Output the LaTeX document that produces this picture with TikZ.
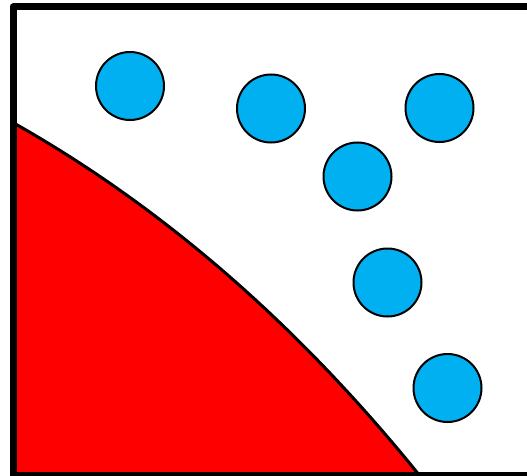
\documentclass[tikz,border=0pt]{standalone}
\usepackage{tikz}

\definecolor{dropblue}{HTML}{00B0F0}

\begin{document}
\begin{tikzpicture}[
    x=1pt, y=-1pt,
    particle/.style={circle, draw, line width=2pt, fill=dropblue, inner sep=0pt, minimum size=68pt},
    wall/.style={draw, line width=7pt, line join=round}
]
\useasboundingbox (0,0) rectangle (527,476);
\clip (0,0) rectangle (527,476);
% solid region in the corner
\coordinate (top) at (12,122);
\coordinate (foot) at (420,476);
\fill[red] (top) .. controls (161.3,206) and (297.3,324) .. (foot) -- (12,476) -- cycle;
\draw[line width=3pt] (top) .. controls (161.3,206) and (297.3,324) .. (foot);
% container
\draw[wall] (13,7) rectangle (545,475);
% particles
\node[particle] (p1) at (130,86) {};
\node[particle] (p2) at (271,108.5) {};
\node[particle] (p3) at (439.5,108) {};
\node[particle] (p4) at (357.5,176.5) {};
\node[particle] (p5) at (387.5,282.5) {};
\node[particle] (p6) at (447.5,388) {};
\end{tikzpicture}
\end{document}
